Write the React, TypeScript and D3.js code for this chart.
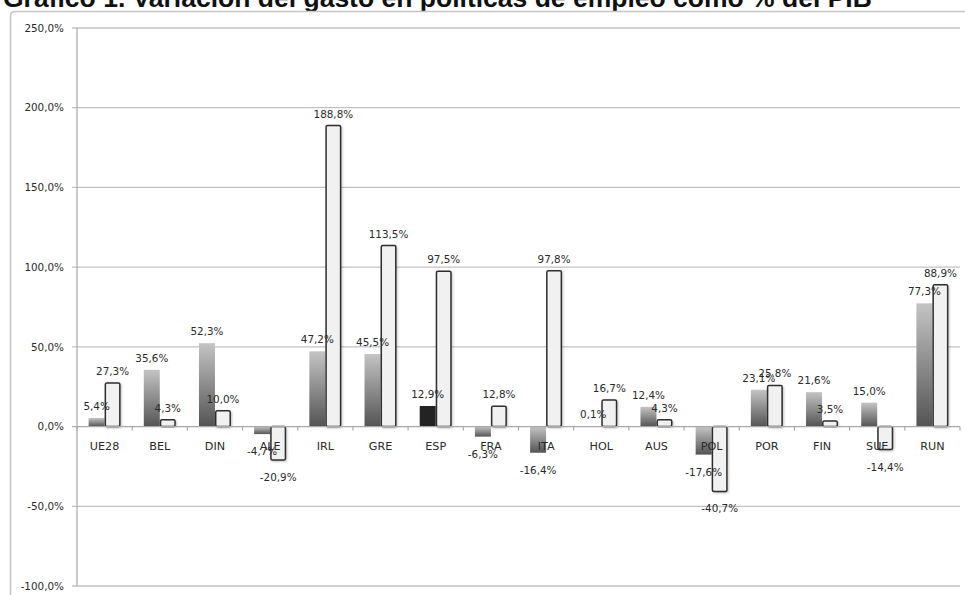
import React from "react";
import * as d3 from "d3";

const categories = ["UE28", "BEL", "DIN", "ALE", "IRL", "GRE", "ESP", "FRA", "ITA", "HOL", "AUS", "POL", "POR", "FIN", "SUE", "RUN"];
const seriesA = [5.4, 35.6, 52.3, -4.7, 47.2, 45.5, 12.9, -6.3, -16.4, 0.1, 12.4, -17.6, 23.1, 21.6, 15.0, 77.3];
const seriesB = [27.3, 4.3, 10.0, -20.9, 188.8, 113.5, 97.5, 12.8, 97.8, 16.7, 4.3, -40.7, 25.8, 3.5, -14.4, 88.9];
const yTicks = [250, 200, 150, 100, 50, 0, -50, -100];
const highlight = "ESP";

const W = 965;
const H = 595;
const plotLeft = 77;
const plotRight = 960;
const plotTop = 28;
const plotBottom = 586;

const fmt = (v: number) => v.toFixed(1).replace(".", ",") + "%";

export default function App() {
  const x = d3.scaleBand<string>().domain(categories).range([plotLeft, plotRight]);
  const y = d3.scaleLinear().domain([-100, 250]).range([plotBottom, plotTop]);
  const barW = 16;
  const font = "'DejaVu Sans', 'Open Sans', sans-serif";
  const textColor = "#2a2a2a";

  const labelY = (v: number) => (v >= 0 ? y(v) - 8 : y(v) + 21);

  return (
    <div style={{ position: "fixed", left: 0, top: 0 }}>
      <svg width={W} height={H} style={{ display: "block", background: "#fff" }}>
        <defs>
          <linearGradient id="gradA" x1="0" y1="0" x2="0" y2="1">
            <stop offset="0%" stopColor="#c4c4c4" />
            <stop offset="100%" stopColor="#545454" />
          </linearGradient>
          <filter id="shadow" x="-30%" y="-10%" width="160%" height="130%">
            <feDropShadow dx="1" dy="1" stdDeviation="0.8" floodColor="#000" floodOpacity="0.25" />
          </filter>
        </defs>

        {/* title */}
        <text x={3} y={6.5} fontFamily="'Liberation Sans', Arial, sans-serif" fontWeight="bold" fontSize={26.5} fill="#111">
          Gráfico 1. Variación del gasto en políticas de empleo como % del PIB
        </text>

        {/* chart frame */}
        <path d="M10.5,600 L10.5,16 Q10.5,11.5 15,11.5 L975,11.5" fill="none" stroke="#c6c6c6" strokeWidth={1.6} />

        {/* gridlines and y ticks */}
        {yTicks.map((t) => (
          <g key={t}>
            {t !== 0 && (
              <line x1={plotLeft - 5} x2={plotRight} y1={y(t)} y2={y(t)} stroke="#c2c2c2" strokeWidth={1.3} />
            )}
            {t === 0 && <line x1={plotLeft - 5} x2={plotLeft} y1={y(t)} y2={y(t)} stroke="#a8a8a8" strokeWidth={1.2} />}
            <text x={64} y={y(t) + 3.7} textAnchor="end" fontFamily={font} fontSize={10.4} fill={textColor}>
              {fmt(t)}
            </text>
          </g>
        ))}

        {/* y axis line */}
        <line x1={plotLeft} x2={plotLeft} y1={plotTop} y2={plotBottom} stroke="#a8a8a8" strokeWidth={1.2} />

        {/* bars */}
        {categories.map((c, i) => {
          const cx = (x(c) as number) + x.bandwidth() / 2;
          const a = seriesA[i];
          const b = seriesB[i];
          return (
            <g key={c}>
              <rect
                x={cx - barW}
                y={Math.min(y(a), y(0))}
                width={barW}
                height={Math.abs(y(a) - y(0))}
                fill={c === highlight ? "#232323" : "url(#gradA)"}
              />
              <rect
                x={cx + 0.75}
                y={Math.min(y(b), y(0))}
                width={barW - 1.5}
                height={Math.abs(y(b) - y(0))}
                rx={1.5}
                fill="#f1f1f1"
                stroke="#2e2e2e"
                strokeWidth={1.5}
                filter="url(#shadow)"
              />
            </g>
          );
        })}

        {/* x axis at zero */}
        <line x1={plotLeft} x2={plotRight} y1={y(0)} y2={y(0)} stroke="#a8a8a8" strokeWidth={1.2} />
        {d3.range(categories.length + 1).map((k) => {
          const tx = plotLeft + k * x.step();
          return <line key={k} x1={tx} x2={tx} y1={y(0)} y2={y(0) + 4} stroke="#a8a8a8" strokeWidth={1.2} />;
        })}

        {/* category labels */}
        {categories.map((c) => (
          <text
            key={c}
            x={(x(c) as number) + x.bandwidth() / 2}
            y={y(0) + 23}
            textAnchor="middle"
            fontFamily={font}
            fontSize={11.2}
            fill={textColor}
          >
            {c}
          </text>
        ))}

        {/* value labels */}
        {categories.map((c, i) => {
          const cx = (x(c) as number) + x.bandwidth() / 2;
          return (
            <g key={c} fontFamily={font} fontSize={10.4} fill={textColor} textAnchor="middle">
              <text x={cx - barW / 2} y={labelY(seriesA[i])}>
                {fmt(seriesA[i])}
              </text>
              <text x={cx + barW / 2} y={labelY(seriesB[i])}>
                {fmt(seriesB[i])}
              </text>
            </g>
          );
        })}
      </svg>
    </div>
  );
}
